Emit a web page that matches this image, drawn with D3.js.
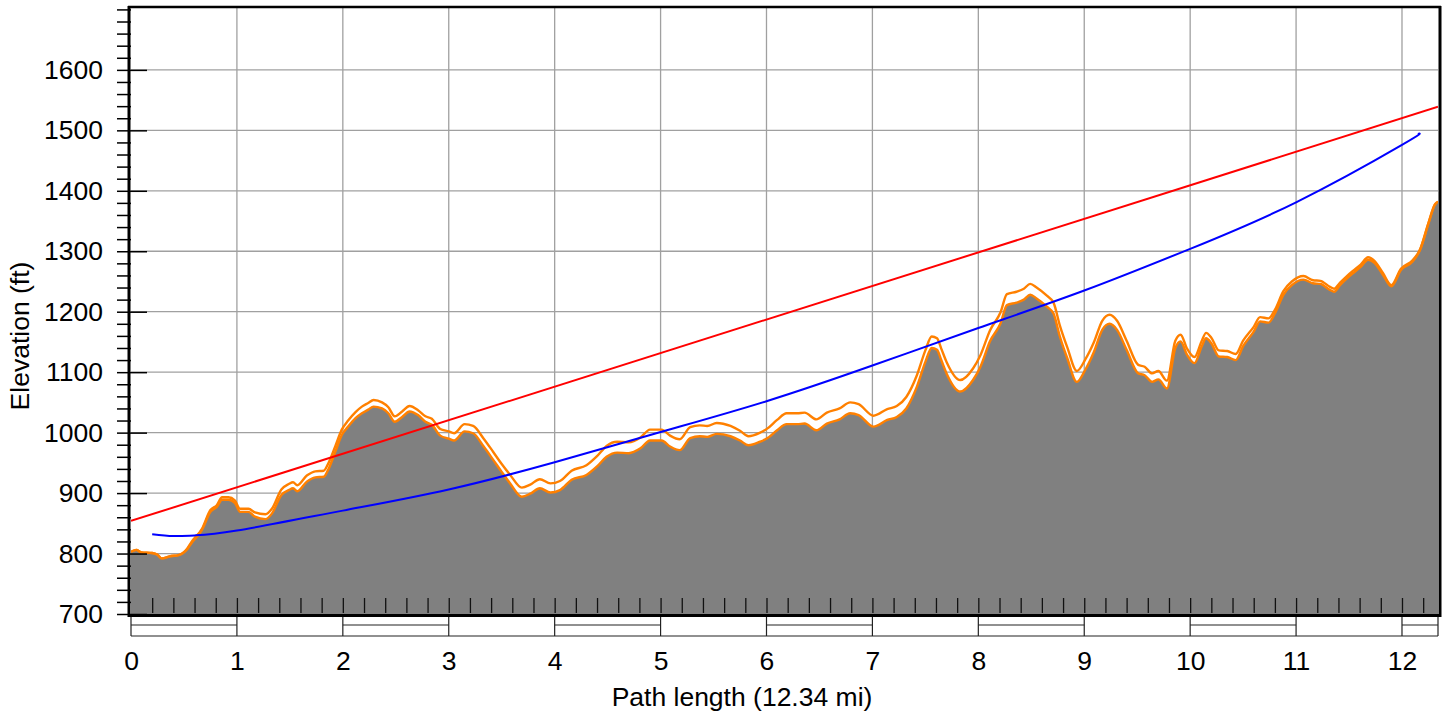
<!DOCTYPE html>
<html>
<head>
<meta charset="utf-8">
<script src="https://cdn.jsdelivr.net/npm/d3@7"></script>
<style>
  body { margin: 0; background: #fff; }
  text { font-family: "Liberation Sans", Arial, sans-serif; }
</style>
</head>
<body>
<div id="chart"></div>
<script>
// path profile, distance in miles / elevation in ft
const distMi = [0.00, 0.05, 0.10, 0.20, 0.25, 0.29, 0.38, 0.44, 0.53, 0.57,
  0.67, 0.75, 0.81, 0.86, 0.92, 0.98, 1.03, 1.11, 1.17, 1.27,
  1.33, 1.42, 1.49, 1.53, 1.57, 1.66, 1.74, 1.82, 1.86, 1.93,
  1.99, 2.05, 2.12, 2.18, 2.24, 2.29, 2.37, 2.43, 2.49, 2.56,
  2.63, 2.71, 2.78, 2.84, 2.92, 3.00, 3.05, 3.15, 3.23, 3.33,
  3.42, 3.50, 3.58, 3.69, 3.77, 3.86, 3.96, 4.05, 4.16, 4.30,
  4.40, 4.49, 4.59, 4.70, 4.81, 4.90, 5.01, 5.09, 5.18, 5.28,
  5.37, 5.44, 5.53, 5.66, 5.75, 5.83, 5.94, 6.01, 6.10, 6.19,
  6.29, 6.36, 6.47, 6.57, 6.69, 6.79, 6.87, 7.01, 7.14, 7.23,
  7.32, 7.42, 7.50, 7.56, 7.61, 7.65, 7.70, 7.83, 7.95, 8.02,
  8.11, 8.21, 8.27, 8.36, 8.43, 8.49, 8.55, 8.65, 8.71, 8.77,
  8.84, 8.93, 9.01, 9.09, 9.17, 9.24, 9.31, 9.40, 9.51, 9.57,
  9.64, 9.70, 9.78, 9.86, 9.91, 9.97, 10.04, 10.11, 10.15, 10.20,
  10.27, 10.35, 10.43, 10.50, 10.60, 10.66, 10.74, 10.80, 10.88, 10.96,
  11.07, 11.16, 11.23, 11.32, 11.36, 11.41, 11.48, 11.54, 11.61, 11.68,
  11.74, 11.82, 11.90, 11.99, 12.10, 12.17, 12.25, 12.31, 12.34];

const terrainFt = [803, 806, 802, 801, 798, 792, 796, 797, 807, 817,
  839, 869, 877, 889, 889, 884, 869, 869, 861, 857,
  866, 897, 905, 908, 903, 919, 926, 927, 938, 969,
  996, 1010, 1024, 1032, 1038, 1043, 1040, 1032, 1018, 1026,
  1035, 1029, 1018, 1013, 995, 990, 987, 1002, 999, 977,
  955, 935, 916, 894, 899, 908, 901, 905, 922, 930,
  944, 960, 967, 966, 974, 987, 987, 977, 971, 991,
  994, 993, 998, 994, 987, 979, 985, 991, 1004, 1014,
  1014, 1015, 1004, 1015, 1022, 1032, 1029, 1010, 1021, 1026,
  1040, 1076, 1117, 1140, 1137, 1120, 1098, 1068, 1087, 1109,
  1151, 1181, 1211, 1215, 1220, 1228, 1222, 1208, 1197, 1159,
  1123, 1084, 1104, 1133, 1170, 1180, 1170, 1137, 1098, 1095,
  1084, 1088, 1073, 1140, 1151, 1129, 1115, 1143, 1156, 1148,
  1126, 1125, 1120, 1143, 1167, 1184, 1182, 1197, 1228, 1244,
  1253, 1247, 1246, 1236, 1233, 1243, 1255, 1264, 1274, 1286,
  1281, 1261, 1242, 1269, 1283, 1302, 1346, 1377, 1382];

// clutter height on top of terrain (ft)
const clutterFt = [0, 0, 0, 0, 0, 0, 0, 0, 1, 2,
  2, 3, 3, 4, 4, 4, 5, 5, 7, 8,
  8, 9, 10, 10, 10, 10, 10, 10, 10, 9,
  9, 10, 10, 11, 11, 11, 10, 10, 9, 9,
  9, 8, 9, 10, 11, 12, 12, 12, 12, 13,
  13, 13, 14, 15, 15, 15, 15, 15, 15, 16,
  17, 18, 18, 18, 18, 18, 18, 18, 18, 18,
  18, 18, 18, 17, 16, 15, 15, 16, 17, 18,
  18, 18, 18, 18, 18, 18, 18, 18, 18, 18,
  19, 19, 19, 19, 19, 19, 19, 19, 19, 19,
  18, 18, 18, 18, 18, 18, 18, 18, 18, 18,
  18, 18, 17, 16, 15, 15, 15, 15, 14, 14,
  14, 14, 13, 12, 11, 10, 10, 9, 9, 9,
  10, 10, 10, 9, 8, 7, 7, 6, 6, 6,
  6, 5, 5, 5, 5, 4, 4, 4, 4, 4,
  3, 3, 2, 2, 2, 1, 1, 0, 0];

// line of sight (red)
const losMi = [0, 12.34];
const losFt = [854, 1539];

// blue curve
const curveMi = [0.2, 0.4, 0.6, 1, 2, 3, 4, 5, 6, 7, 8, 9, 10, 11, 12, 12.15];
const curveFt = [832, 829, 830, 838, 871, 906, 951, 1001, 1052, 1111, 1173, 1235, 1304, 1381, 1476, 1494];

const xTicks = [0, 1, 2, 3, 4, 5, 6, 7, 8, 9, 10, 11, 12];
const yTicks = [700, 800, 900, 1000, 1100, 1200, 1300, 1400, 1500, 1600];

const width = 1447, height = 714;
const plotL = 131, plotR = 1438, plotT = 7, plotB = 614;
const maxMi = 12.34;
const fontSize = 26.5;

const svg = d3.select("#chart").append("svg")
  .attr("width", width)
  .attr("height", height);

const x = d3.scaleLinear().domain([0, maxMi]).range([plotL, plotR]);
const y = d3.scaleLinear().domain([700, 1704]).range([plotB, plotT]);

svg.append("clipPath").attr("id", "plot")
  .append("rect")
  .attr("x", plotL).attr("y", plotT)
  .attr("width", plotR - plotL).attr("height", plotB - plotT);

// grid
const grid = svg.append("g").attr("stroke", "#a0a0a0").attr("stroke-width", 1.3);
grid.selectAll(".gx").data(xTicks.slice(1)).join("line")
  .attr("x1", d => x(d)).attr("x2", d => x(d))
  .attr("y1", plotT).attr("y2", plotB);
grid.selectAll(".gy").data(yTicks).join("line")
  .attr("x1", plotL).attr("x2", plotR)
  .attr("y1", d => y(d)).attr("y2", d => y(d));

const profile = distMi.map((d, i) => ({ d, h: terrainFt[i], c: clutterFt[i] }));

const plot = svg.append("g").attr("clip-path", "url(#plot)");

const area = d3.area()
  .x(p => x(p.d))
  .y0(plotB)
  .y1(p => y(p.h))
  .curve(d3.curveMonotoneX);

plot.append("path")
  .datum(profile)
  .attr("fill", "#808080")
  .attr("d", area);

const ground = d3.line().x(p => x(p.d)).y(p => y(p.h)).curve(d3.curveMonotoneX);
const clutter = d3.line().x(p => x(p.d)).y(p => y(p.h + p.c)).curve(d3.curveMonotoneX);

plot.append("path")
  .datum(profile)
  .attr("fill", "none")
  .attr("stroke", "#ff8000")
  .attr("stroke-width", 2.4)
  .attr("d", clutter);

plot.append("path")
  .datum(profile)
  .attr("fill", "none")
  .attr("stroke", "#ff8000")
  .attr("stroke-width", 2.4)
  .attr("d", ground);

// red line of sight
plot.append("path")
  .datum(losMi.map((d, i) => [d, losFt[i]]))
  .attr("fill", "none")
  .attr("stroke", "#ff0000")
  .attr("stroke-width", 2)
  .attr("d", d3.line().x(p => x(p[0])).y(p => y(p[1])));

// blue curve
plot.append("path")
  .datum(curveMi.map((d, i) => [d, curveFt[i]]))
  .attr("fill", "none")
  .attr("stroke", "#0000ff")
  .attr("stroke-width", 2)
  .attr("d", d3.line().x(p => x(p[0])).y(p => y(p[1])).curve(d3.curveNatural));

// y axis: minor ticks outside, major ticks inside, labels
const yMinor = svg.append("g")
  .attr("transform", `translate(${plotL},0)`)
  .call(d3.axisLeft(y).tickValues(d3.range(700, 1701, 20)).tickSize(14).tickFormat(""));
yMinor.select(".domain").remove();
yMinor.selectAll("line").attr("stroke-width", 1.5);

const yMajorIn = svg.append("g")
  .attr("transform", `translate(${plotL},0)`)
  .call(d3.axisRight(y).tickValues(yTicks).tickSize(16).tickFormat(""));
yMajorIn.select(".domain").remove();
yMajorIn.selectAll("line").attr("stroke-width", 1.5);

const yLabels = svg.append("g")
  .attr("transform", `translate(${plotL},0)`)
  .call(d3.axisLeft(y).tickValues(yTicks).tickSize(0).tickPadding(28).tickFormat(d3.format("d")));
yLabels.select(".domain").remove();
yLabels.selectAll("text").attr("font-size", fontSize).attr("font-family", "Liberation Sans, Arial, sans-serif").attr("fill", "#000");

// x axis: minor ticks inside
const xMinor = svg.append("g")
  .attr("transform", `translate(0,${plotB - 1})`)
  .call(d3.axisTop(x).tickValues(d3.range(0.2, maxMi, 0.2)).tickSize(15).tickFormat(""));
xMinor.select(".domain").remove();
xMinor.selectAll("line").attr("stroke", "#111").attr("stroke-width", 1.3);

// scale bar under the axis
const bar = svg.append("g").attr("stroke", "#222").attr("stroke-width", 1.2);
const barTop = 615, barMid = 625, barBot = 636;
bar.selectAll(".bv").data(xTicks.concat([maxMi])).join("line")
  .attr("x1", d => x(d)).attr("x2", d => x(d))
  .attr("y1", barTop).attr("y2", barBot);
bar.append("line")
  .attr("x1", x(0)).attr("x2", x(maxMi))
  .attr("y1", barBot).attr("y2", barBot);
bar.selectAll(".bm").data(xTicks.filter(d => d % 2 === 0)).join("line")
  .attr("x1", d => x(d)).attr("x2", d => x(Math.min(d + 1, maxMi)))
  .attr("y1", barMid).attr("y2", barMid);

const xLabels = svg.append("g")
  .attr("transform", `translate(0,${plotB + 1})`)
  .call(d3.axisBottom(x).tickValues(xTicks).tickSize(0).tickPadding(36).tickFormat(d3.format("d")));
xLabels.select(".domain").remove();
xLabels.selectAll("text").attr("font-size", fontSize).attr("font-family", "Liberation Sans, Arial, sans-serif").attr("fill", "#000");

// frame
const frame = svg.append("g").attr("stroke", "#000");
frame.append("line").attr("x1", plotL - 2).attr("x2", plotL - 2).attr("y1", plotT - 1).attr("y2", plotB + 3).attr("stroke-width", 3);
frame.append("line").attr("x1", plotL - 3).attr("x2", plotR + 3).attr("y1", plotB + 1.5).attr("y2", plotB + 1.5).attr("stroke-width", 3);
frame.append("line").attr("x1", plotL - 3).attr("x2", plotR + 3).attr("y1", plotT).attr("y2", plotT).attr("stroke-width", 2.5);
frame.append("line").attr("x1", plotR + 2).attr("x2", plotR + 2).attr("y1", plotT - 1).attr("y2", plotB + 3).attr("stroke-width", 3);

// axis titles
svg.append("text")
  .attr("x", 742)
  .attr("y", 706)
  .attr("text-anchor", "middle")
  .attr("font-size", fontSize)
  .text("Path length (12.34 mi)");

svg.append("text")
  .attr("transform", `translate(29,336) rotate(-90)`)
  .attr("text-anchor", "middle")
  .attr("font-size", fontSize)
  .text("Elevation (ft)");
</script>
</body>
</html>
